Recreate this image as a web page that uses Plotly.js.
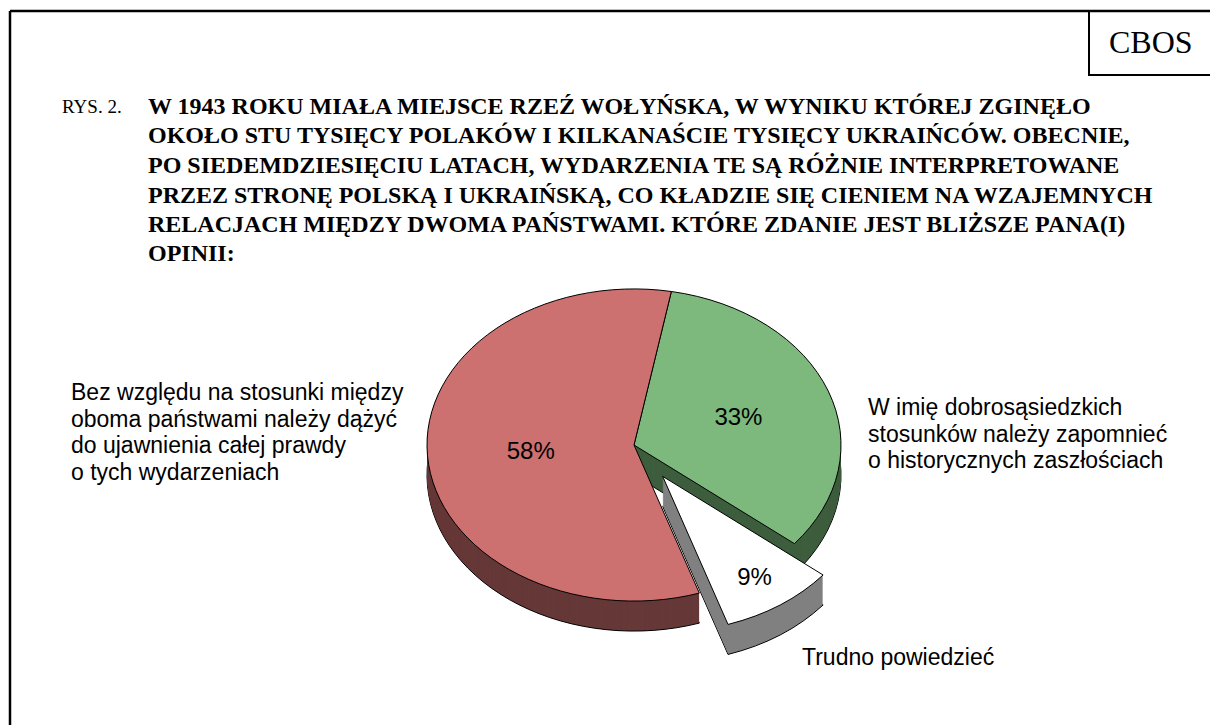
<!DOCTYPE html>
<html>
<head>
<meta charset="utf-8">
<script src="https://cdn.plot.ly/plotly-3.0.1.min.js"></script>
<style>
html, body { margin: 0; padding: 0; background: #ffffff; }
#chart { width: 1210px; height: 725px; }
</style>
</head>
<body>
<div id="chart"></div>
<script>
// ---------------- data ----------------
const categories = [
  "W imię dobrosąsiedzkich stosunków należy zapomnieć o historycznych zaszłościach",
  "Trudno powiedzieć",
  "Bez względu na stosunki między oboma państwami należy dążyć do ujawnienia całej prawdy o tych wydarzeniach"
];
const values = [33, 9, 58];

const labelRight = ["W imię dobrosąsiedzkich", "stosunków należy zapomnieć", "o historycznych zaszłościach"];
const labelBottom = ["Trudno powiedzieć"];
const labelLeft = ["Bez względu na stosunki między", "oboma państwami należy dążyć", "do ujawnienia całej prawdy", "o tych wydarzeniach"];

const figLabel = "RYS. 2.";
const brand = "CBOS";
const titleLines = [
  "W 1943 ROKU MIAŁA MIEJSCE RZEŹ WOŁYŃSKA, W WYNIKU KTÓREJ ZGINĘŁO",
  "OKOŁO STU TYSIĘCY POLAKÓW I KILKANAŚCIE TYSIĘCY UKRAIŃCÓW. OBECNIE,",
  "PO SIEDEMDZIESIĘCIU LATACH, WYDARZENIA TE SĄ RÓŻNIE INTERPRETOWANE",
  "PRZEZ STRONĘ POLSKĄ I UKRAIŃSKĄ, CO KŁADZIE SIĘ CIENIEM NA WZAJEMNYCH",
  "RELACJACH MIĘDZY DWOMA PAŃSTWAMI. KTÓRE ZDANIE JEST BLIŻSZE PANA(I)",
  "OPINII:"
];

// ---------------- styles / geometry ----------------
const W = 1210, H = 725;
const topColors  = ["#7DB87D", "#FFFFFF", "#CD7070"];
const sideColors = ["#3E5E3E", "#808080", "#663838"];
const K = 0.754;          // vertical tilt of the pie
const CX = 634;           // pie centre x (px)
const CYS = 445;          // pie centre y on screen (px)
const R = 207;            // pie radius (px)
const PULL = 0.244;       // pull of the "Trudno powiedzieć" slice
const DEPTH = 30;         // thickness on screen (px)
const STEPS = 30;         // layers used to build the side
const YU = 330;           // un-tilted centre used before the tilt transform
const S = 2 * R * (1 + PULL);
const pull = categories.map((c, i) => (i === 1 ? PULL : 0));

const SANS = "Liberation Sans, Arial, sans-serif";
const SERIF = "Liberation Serif, Times New Roman, serif";

function pieTrace(offsetPx, colors, lineW, showText) {
  const yc = YU + offsetPx / K;
  const t = {
    type: "pie",
    values: values,
    labels: categories,
    sort: false,
    direction: "clockwise",
    rotation: 10.4,
    pull: pull,
    marker: { colors: colors, line: { color: "#000000", width: lineW } },
    domain: {
      x: [(CX - S / 2) / W, (CX + S / 2) / W],
      y: [1 - (yc + S / 2) / H, 1 - (yc - S / 2) / H]
    },
    hoverinfo: "skip",
    showlegend: false
  };
  if (showText) {
    t.texttemplate = "%{value}%";
    t.textposition = "inside";
    t.insidetextorientation = "horizontal";
    t.textfont = { family: SANS, size: 24, color: "#000000" };
  } else {
    t.textinfo = "none";
    t.textposition = "none";
  }
  return t;
}

const data = [];
for (let s = STEPS; s >= 1; s--) {
  data.push(pieTrace(DEPTH * s / STEPS, sideColors, s === STEPS ? 1 : 0, false));
}
data.push(pieTrace(0, topColors, 1, true));

// ---------------- annotations ----------------
const annotations = [];
function addText(text, x, y, font, anchor) {
  annotations.push({
    text: text, xref: "paper", yref: "paper",
    x: x / W, y: 1 - y / H, xanchor: anchor || "left", yanchor: "middle",
    showarrow: false, font: font
  });
}
addText(brand, 1151, 42, { family: SERIF, size: 32, color: "#000" }, "center");
addText(figLabel, 60, 106, { family: SERIF, size: 19, color: "#000" });
titleLines.forEach((ln, i) => addText("<b>" + ln + "</b>", 146, 106 + 29.5 * i, { family: SERIF, size: 24, color: "#000" }));
labelLeft.forEach((ln, i) => addText(ln, 69, 392 + 26.7 * i, { family: SANS, size: 23, color: "#000" }));
labelRight.forEach((ln, i) => addText(ln, 866, 407 + 26.7 * i, { family: SANS, size: 23, color: "#000" }));
labelBottom.forEach((ln, i) => addText(ln, 800, 657, { family: SANS, size: 23, color: "#000" }));

// ---------------- frame ----------------
const shapes = [
  { type: "line", xref: "paper", yref: "paper", x0: 10 / W, x1: 1.01, y0: 1 - 11 / H, y1: 1 - 11 / H, line: { color: "#000", width: 2.5 } },
  { type: "line", xref: "paper", yref: "paper", x0: 10 / W, x1: 10 / W, y0: 1 - 11 / H, y1: -0.01, line: { color: "#000", width: 2.5 } },
  { type: "rect", xref: "paper", yref: "paper", x0: 1089 / W, x1: 1.01, y0: 1 - 75 / H, y1: 1 - 11 / H, line: { color: "#000", width: 2 }, fillcolor: "rgba(0,0,0,0)" }
];

const layout = {
  width: W, height: H,
  margin: { l: 0, r: 0, t: 0, b: 0 },
  paper_bgcolor: "#ffffff",
  plot_bgcolor: "#ffffff",
  showlegend: false,
  annotations: annotations,
  shapes: shapes
};

Plotly.newPlot("chart", data, layout, { staticPlot: true, displayModeBar: false }).then(function (gd) {
  const svg = gd.querySelector(".main-svg");
  const layer = gd.querySelector(".pielayer");
  if (!svg || !layer) return;
  const top0 = svg.getBoundingClientRect().top;
  const c = CYS - K * YU;
  const M = "matrix(1,0,0," + K + ",0," + c + ")";
  // measure the slice labels first
  const texts = Array.prototype.slice.call(layer.querySelectorAll(".slicetext text"));
  const centres = texts.map(function (t) {
    const r = t.getBoundingClientRect();
    return r.top + r.height / 2 - top0;
  });
  // tilt the slices
  layer.querySelectorAll("path.surface").forEach(function (p) {
    const prev = p.getAttribute("transform") || "";
    p.setAttribute("transform", M + " " + prev);
    p.style.vectorEffect = "non-scaling-stroke";
  });
  // move the labels with the tilt, without distorting the glyphs
  texts.forEach(function (t, i) {
    const yc = centres[i];
    const dy = K * yc + c - yc;
    const prev = t.getAttribute("transform") || "";
    t.setAttribute("transform", "translate(0," + dy + ") " + prev);
  });
});
</script>
</body>
</html>
